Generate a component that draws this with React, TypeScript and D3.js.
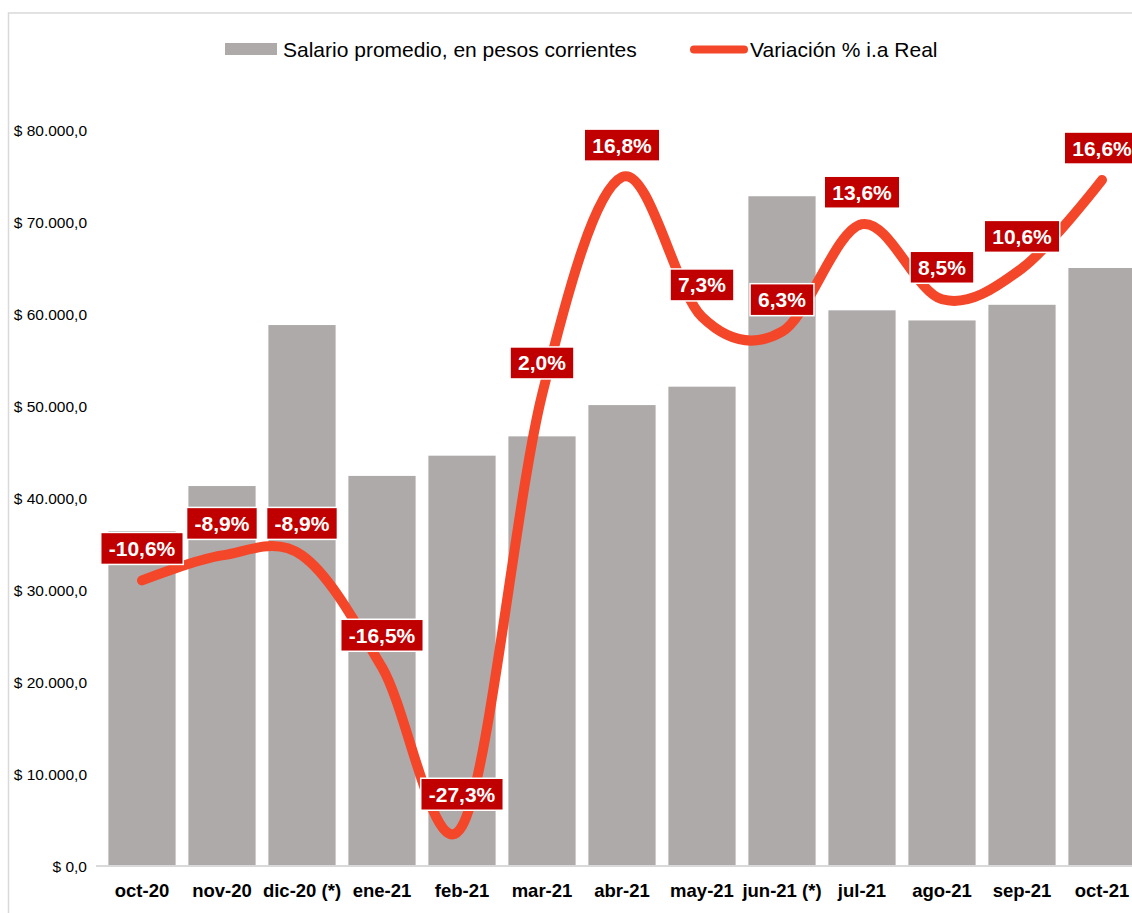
import React, { useEffect, useRef } from "react";
import * as d3 from "d3";

const categories = ["oct-20", "nov-20", "dic-20 (*)", "ene-21", "feb-21", "mar-21", "abr-21", "may-21", "jun-21 (*)", "jul-21", "ago-21", "sep-21", "oct-21"];
const salario = [36400, 41300, 58800, 42400, 44600, 46700, 50100, 52100, 72800, 60400, 59300, 61000, 65000];
const variacion = [-10.6, -8.9, -8.9, -16.5, -27.3, 2.0, 16.8, 7.3, 6.3, 13.6, 8.5, 10.6, 16.6];
const yTicks = [0, 10000, 20000, 30000, 40000, 50000, 60000, 70000, 80000];
const legendLabels = ["Salario promedio, en pesos corrientes", "Variación % i.a Real"];

const W = 1132;
const H = 913;
const FONT = "'Liberation Sans', Arial, Helvetica, sans-serif";
const BAR = "#AEAAAA";
const LINE = "#F4472A";
const LABEL_BG = "#C00000";

const fmtMoney = (v: number) => {
  const s = d3.format(",.1f")(v);
  return "$ " + s.replace(/,/g, "#").replace(/\./g, ",").replace(/#/g, ".");
};
const fmtPct = (v: number) => (v < 0 ? "-" : "") + Math.abs(v).toFixed(1).replace(".", ",") + "%";

export default function App() {
  const ref = useRef<SVGSVGElement>(null);

  useEffect(() => {
    const svg = d3.select(ref.current);
    svg.selectAll("*").remove();

    const x = d3.scaleBand<string>().domain(categories).range([102, 1142]).paddingInner(0.16).paddingOuter(0.08);
    const y = d3.scaleLinear().domain([0, 80000]).range([866, 130]);
    const y2 = d3.scaleLinear().domain([-30, 20]).range([866, 130]);

    // border
    svg.append("rect").attr("x", 8.5).attr("y", 13).attr("width", 1300).attr("height", 1300)
      .attr("fill", "#fff").attr("stroke", "#D9D9D9").attr("stroke-width", 1.5);

    // y ticks labels
    svg.append("g").selectAll("text").data(yTicks).join("text")
      .attr("x", 87).attr("y", (d) => y(d) + 5.5)
      .attr("text-anchor", "end").attr("font-family", FONT).attr("font-size", 15.5).attr("fill", "#000")
      .text((d) => fmtMoney(d));

    // bars
    svg.append("g").selectAll("rect").data(categories).join("rect")
      .attr("x", (d) => x(d)!).attr("width", x.bandwidth())
      .attr("y", (_d, i) => y(salario[i])).attr("height", (_d, i) => y(0) - y(salario[i]))
      .attr("fill", BAR);

    // axis line
    svg.append("line").attr("x1", 96).attr("x2", 1140).attr("y1", 866).attr("y2", 866)
      .attr("stroke", "#D9D9D9").attr("stroke-width", 2);

    // x labels
    svg.append("g").selectAll("text").data(categories).join("text")
      .attr("x", (d) => x(d)! + x.bandwidth() / 2).attr("y", 897)
      .attr("text-anchor", "middle").attr("font-family", FONT).attr("font-size", 18.5).attr("font-weight", "bold")
      .attr("fill", "#000").text((d) => d);

    // line
    const pts: [number, number][] = categories.map((c, i) => [x(c)! + x.bandwidth() / 2, y2(variacion[i])]);
    const lineGen = d3.line().curve(d3.curveCatmullRom.alpha(0));
    svg.append("path").attr("d", lineGen(pts)).attr("fill", "none").attr("stroke", LINE)
      .attr("stroke-width", 10).attr("stroke-linecap", "round").attr("stroke-linejoin", "round");

    // data labels
    const lg = svg.append("g");
    pts.forEach(([px, py], i) => {
      const g = lg.append("g");
      const rect = g.append("rect").attr("fill", LABEL_BG).attr("stroke", "#fff").attr("stroke-width", 1.5);
      const t = g.append("text").attr("x", px).attr("y", py - 32 + 7.5).attr("text-anchor", "middle")
        .attr("font-family", FONT).attr("font-size", 21).attr("font-weight", "bold").attr("fill", "#fff")
        .text(fmtPct(variacion[i]));
      const w = (t.node() as SVGTextElement).getComputedTextLength();
      rect.attr("x", px - w / 2 - 8).attr("width", w + 16).attr("y", py - 32 - 16).attr("height", 32);
    });

    // legend
    const leg = svg.append("g");
    leg.append("rect").attr("x", 225).attr("y", 43).attr("width", 52).attr("height", 12).attr("fill", BAR);
    leg.append("text").attr("x", 283).attr("y", 57).attr("font-family", FONT).attr("font-size", 21).attr("fill", "#000").text(legendLabels[0]);
    leg.append("line").attr("x1", 694).attr("x2", 744).attr("y1", 49.5).attr("y2", 49.5)
      .attr("stroke", LINE).attr("stroke-width", 8).attr("stroke-linecap", "round");
    leg.append("text").attr("x", 750).attr("y", 57).attr("font-family", FONT).attr("font-size", 21).attr("fill", "#000").text(legendLabels[1]);
  }, []);

  return (
    <svg ref={ref} width={W} height={H} style={{ position: "absolute", left: 0, top: 0, display: "block", background: "#fff" }} />
  );
}
